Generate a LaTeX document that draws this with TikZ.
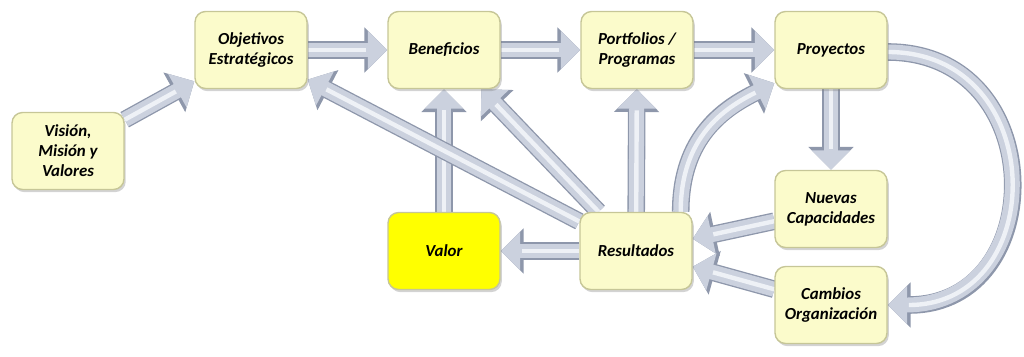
\documentclass[tikz,border=0pt]{standalone}
\usepackage{fontspec}
\setsansfont{Carlito}
\usetikzlibrary{arrows.meta,shadows,calc,backgrounds}
\definecolor{boxfill}{HTML}{FBFBCB}
\definecolor{boxedge}{HTML}{C6C697}
\definecolor{valfill}{HTML}{FFFF00}
\definecolor{flowfill}{HTML}{CBD1DE}
\definecolor{flowedge}{HTML}{8E97AB}
\definecolor{flowlight}{HTML}{EEF1F6}

\tikzset{
  box/.style={draw=boxedge, line width=0.8pt, fill=boxfill, rounded corners=6pt,
    minimum width=2.24cm, minimum height=1.54cm, align=center,
    drop shadow={opacity=0.35, shadow xshift=1pt, shadow yshift=-1.5pt}},
  flow/.style={draw=flowfill, line width=8.5pt, -{Triangle[length=0pt 1.3, width=0pt 2.5]},
    preaction={draw=flowedge, line width=10pt, -{Triangle[length=0pt 1.3, width=0pt 2.5]}},
    postaction={draw=flowlight, line width=2.5pt, -, shorten >=12pt}},
}

\begin{document}
\begin{tikzpicture}[x=0.02cm, y=-0.02cm, font=\sffamily\fontsize{9.6}{11.4}\selectfont\bfseries\itshape]
\useasboundingbox (0,0) rectangle (1024,357);

% boxes
\node[box] (vis) at (68,151) {Visión,\\Misión y\\Valores};
\node[box] (obj) at (251,50) {Objetivos\\Estratégicos};
\node[box] (ben) at (444,50) {Beneficios};
\node[box] (por) at (637,50) {Portfolios /\\Programas};
\node[box] (pro) at (831,50) {Proyectos};
\node[box] (nue) at (831,209) {Nuevas\\Capacidades};
\node[box] (cam) at (831,305) {Cambios\\Organización};
\node[box] (res) at (636,251) {Resultados};
\node[box, fill=valfill] (val) at (444,251) {Valor};

% flows
\begin{pgfonlayer}{background}
\draw[flow] (vis) -- (obj);
\draw[flow] (obj) -- (ben);
\draw[flow] (ben) -- (por);
\draw[flow] (por) -- (pro);
\draw[flow] (pro) -- (nue);
\draw[flow] ($(pro.east)+(0,2)$) .. controls +(163,0) and +(163,0) .. (cam.east);
\draw[flow] (nue) -- (res);
\draw[flow] (cam) -- (res);
\draw[flow] (res) -- (val);
\draw[flow] (val) -- (ben);
\draw[flow] (res) -- (ben);
\draw[flow] (res) -- (obj);
\draw[flow] (res) -- (por);
\draw[flow] ($(res.north east)+(-12,0)$) .. controls +(0,-75) and +(-50,25) .. ($(pro.south west)+(0,-6)$);
\end{pgfonlayer}
\end{tikzpicture}
\end{document}
